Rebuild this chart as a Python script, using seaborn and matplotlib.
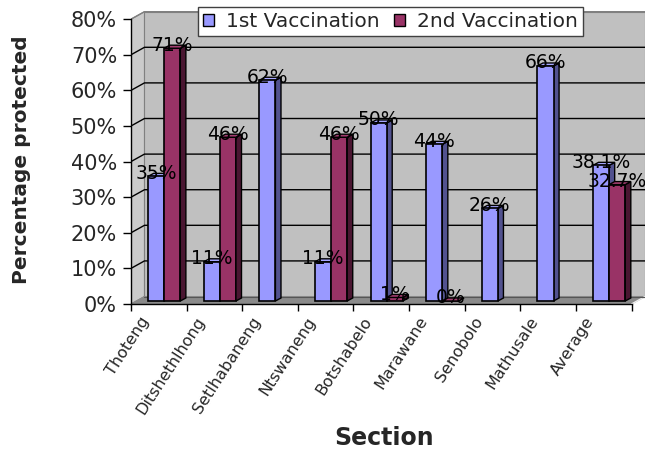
import numpy as np
import pandas as pd
import matplotlib
matplotlib.use("Agg")
import matplotlib.pyplot as plt
import matplotlib.transforms as mtransforms
from matplotlib.patches import Polygon, Patch
import seaborn as sns

# ---- data -------------------------------------------------------------
sections = ["Thoteng", "Ditshethlhong", "Setlhabaneng", "Ntswaneng",
            "Botshabelo", "Marawane", "Senobolo", "Mathusale", "Average"]
first_vaccination = [35, 11, 62, 11, 50, 44, 26, 66, 38.1]
second_vaccination = [71, 46, np.nan, 46, 1, 0, np.nan, np.nan, 32.7]
series_names = ["1st Vaccination", "2nd Vaccination"]
y_ticks = [0, 10, 20, 30, 40, 50, 60, 70, 80]

face_colors = ["#9999ff", "#993366"]
side_colors = ["#52528f", "#4a1631"]
top_colors = ["#a6a6ff", "#a33d70"]

df = pd.DataFrame({
    "Section": sections * 2,
    "Series": [series_names[0]] * len(sections) + [series_names[1]] * len(sections),
    "Protected": first_vaccination + second_vaccination,
}).dropna()

# ---- style ------------------------------------------------------------
sns.set_theme(style="white")
plt.rcParams["font.family"] = ["DejaVu Sans"]

fig = plt.figure(figsize=(6.45, 4.54), dpi=100)
ax = fig.add_axes([0.2031, 0.3304, 0.7969, 0.6509])

sns.barplot(data=df, x="Section", y="Protected", hue="Series",
            order=sections, hue_order=series_names, palette=face_colors,
            width=0.58, saturation=1, errorbar=None, edgecolor="black",
            linewidth=1.2, legend=False, ax=ax, zorder=3)

# pseudo-3D geometry (data units)
DX, DY = 0.242, 2.1     # depth of the chart box
BX, BY = 0.10, 0.85     # depth of each bar
x0, x1 = -0.5, len(sections) - 0.5
ax.set_xlim(x0, x1 + DX)
ax.set_ylim(0, 83)

# bars sit part-way back on the floor
shift = mtransforms.Affine2D().translate(0.4 * DX, 0.4 * DY) + ax.transData

# walls and floor
ax.add_patch(Polygon([(x0 + DX, DY), (x1 + DX, DY), (x1 + DX, 80 + DY), (x0 + DX, 80 + DY)],
                     closed=True, fc="#c0c0c0", ec="#808080", lw=0.8, zorder=0))
ax.add_patch(Polygon([(x0, 0), (x0 + DX, DY), (x0 + DX, 80 + DY), (x0, 80)],
                     closed=True, fc="#cbcbcb", ec="#808080", lw=0.8, zorder=0.1))
ax.add_patch(Polygon([(x0, 0), (x1, 0), (x1 + DX, DY), (x0 + DX, DY)],
                     closed=True, fc="#8a8a8a", ec="#8a8a8a", lw=0.8, zorder=0.2))
ax.plot([x1, x1 + DX], [0, DY], color="#f0f0f0", lw=1.0, zorder=0.3)
ax.plot([x0 + DX, x1 + DX], [DY, DY], color="#555555", lw=0.8, zorder=0.3)

# gridlines on the back and side walls
for v in y_ticks[1:]:
    col = "#808080" if v == y_ticks[-1] else "black"
    ax.plot([x0, x0 + DX, x1 + DX], [v, v + DY, v + DY], color=col, lw=1.0, zorder=0.5)

# bar side/top faces and value labels
for i, cont in enumerate(ax.containers):
    z_faces = 2.5 if i == 0 else 3.2
    for bar in cont:
        h = bar.get_height()
        if np.isnan(h):
            continue
        bx, bw = bar.get_x(), bar.get_width()
        bar.set_transform(shift)
        side = Polygon([(bx + bw, 0), (bx + bw + BX, BY), (bx + bw + BX, h + BY), (bx + bw, h)],
                       closed=True, fc=side_colors[i], ec="black", lw=1.0,
                       transform=shift, zorder=z_faces)
        top = Polygon([(bx, h), (bx + BX, h + BY), (bx + bw + BX, h + BY), (bx + bw, h)],
                      closed=True, fc=top_colors[i], ec="black", lw=1.0,
                      transform=shift, zorder=z_faces)
        ax.add_patch(side)
        ax.add_patch(top)
        ax.text(bx + bw / 2, h + 0.9, f"{h:g}%", transform=shift,
                ha="center", va="center", fontsize=13.5, color="black", zorder=5)

# axes lines and ticks
for s in ["top", "right"]:
    ax.spines[s].set_visible(False)
ax.spines["left"].set_bounds(0, 80)
ax.spines["bottom"].set_bounds(x0, x1)
for s in ["left", "bottom"]:
    ax.spines[s].set_color("black")
    ax.spines[s].set_linewidth(1.0)
    ax.spines[s].set_zorder(4)

ax.set_yticks(y_ticks, [f"{t}%" for t in y_ticks], fontsize=15)
ax.tick_params(axis="y", direction="out", length=6, width=1, color="black", pad=4, left=True)

ax.set_xticks(range(len(sections)), sections, rotation=57, ha="right",
              va="center", rotation_mode="anchor", fontsize=11.5)
ax.set_xticks(np.arange(x0, x1 + 0.01, 1.0), minor=True)
ax.tick_params(axis="x", which="major", length=0, pad=10)
ax.tick_params(axis="x", which="minor", direction="out", length=5, width=1,
               color="black", bottom=True)
nudge = mtransforms.ScaledTranslation(-0.13, 0, fig.dpi_scale_trans)
for lab in ax.get_xticklabels():
    lab.set_transform(lab.get_transform() + nudge)

ax.set_xlabel("")
ax.set_ylabel("")
ax.grid(False)

fig.text(22 / 645, 0.6476, "Percentage protected", rotation=90, ha="center",
         va="center", fontsize=14.5, fontweight="bold")
fig.text(384 / 645, 9 / 454, "Section", ha="center", va="baseline",
         fontsize=17, fontweight="bold")

handles = [Patch(fc=c, ec="black", lw=1.0) for c in face_colors]
leg = fig.legend(handles, series_names, loc="upper left",
                 bbox_to_anchor=(198 / 645, 1 - 7 / 454), ncol=2, frameon=True,
                 fontsize=14.5, handlelength=0.55, handleheight=0.5,
                 handletextpad=0.6, columnspacing=0.7, borderpad=0.25,
                 fancybox=False, framealpha=1, borderaxespad=0)
leg.get_frame().set_edgecolor("#404040")
leg.get_frame().set_linewidth(1.0)

fig.savefig("out.png", dpi=100)
